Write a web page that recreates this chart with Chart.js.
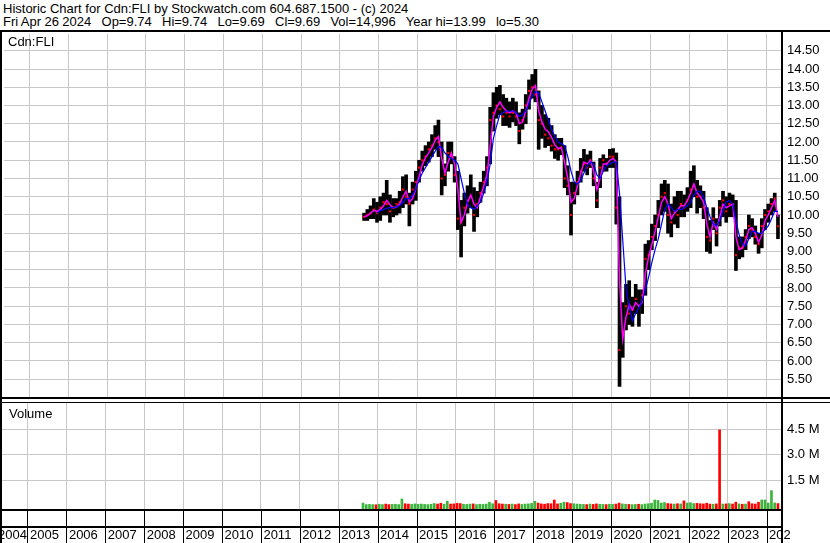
<!DOCTYPE html>
<html>
<head>
<meta charset="utf-8">
<title>Historic Chart for Cdn:FLI</title>
<script src="https://cdn.jsdelivr.net/npm/chart.js@4/dist/chart.umd.min.js"></script>
<style>
  html, body { margin: 0; padding: 0; background: #fff; }
  #page {
    position: relative; width: 830px; height: 543px; overflow: hidden;
    font-family: "Liberation Sans", Arial, sans-serif; font-size: 13px; color: #000;
  }
  .txt { position: absolute; white-space: pre; line-height: 13px; }
  #priceCanvas { position: absolute; left: 0; top: 30px; }
  #volumeCanvas { position: absolute; left: 0; top: 402px; }
</style>
</head>
<body>
<div id="page">
  <div class="txt" style="left:3px; top:2px;">Historic Chart for Cdn:FLI by Stockwatch.com 604.687.1500 - (c) 2024</div>
  <div class="txt" style="left:3px; top:15px; word-spacing:-0.2px;">Fri Apr 26 2024   Op=9.74   Hi=9.74   Lo=9.69   Cl=9.69   Vol=14,996   Year hi=13.99   lo=5.30</div>
  <canvas id="priceCanvas" width="830" height="372"></canvas>
  <canvas id="volumeCanvas" width="830" height="141"></canvas>
  <div class="txt" style="left:8px; top:35px;">Cdn:FLI</div>
  <div class="txt" style="left:9px; top:407px;">Volume</div>
</div>

<script>
/* ---------- данные (помесячно, с авг. 2013 по апр. 2024) ---------- */
const startMonth = { year: 2013, month: 8 };

const priceHigh = [
  10.05, 10.15, 10.25, 10.45, 10.35,
  10.5, 10.6, 10.95, 10.55, 10.45, 10.45, 10.65, 11.05, 11.1, 10.6, 10.9, 11.2,
  11.5, 11.75, 11.9, 12.0, 12.2, 12.45, 12.6, 12.0, 11.4, 12.0, 12.0, 11.6,
  11.2, 10.4, 10.6, 10.8, 11.1, 10.75, 10.65, 10.9, 11.2, 11.6, 12.95, 13.35,
  13.5, 13.55, 13.3, 13.2, 13.1, 13.2, 13.1, 12.8, 12.9, 13.3, 13.7, 13.85,
  13.99, 13.4, 13.0, 12.75, 12.65, 12.45, 12.2, 12.1, 12.1, 11.9, 11.35, 10.9,
  10.9, 11.2, 11.55, 11.8, 11.65, 11.75, 11.45, 10.9, 11.55, 11.65, 11.55, 11.8,
  11.82, 11.7, 10.5, 7.6, 8.1, 8.2, 7.75, 8.1, 7.95, 7.95, 9.2, 9.3,
  9.75, 10.0, 10.4, 10.85, 10.95, 10.85, 10.3, 10.5, 10.65, 10.65, 10.55, 10.75,
  11.2, 11.35, 10.95, 10.8, 10.65, 10.2, 9.85, 10.2, 9.9, 10.4, 10.65, 10.5,
  10.6, 10.55, 10.4, 9.4, 9.4, 9.6, 10.0, 9.9, 9.7, 9.5, 9.9, 10.15,
  10.3, 10.45, 10.6, 10.0
];

const priceLow = [
  9.85, 9.85, 9.9, 9.9, 9.8,
  9.85, 10.0, 10.0, 9.8, 9.95, 10.0, 10.05, 10.2, 10.3, 9.7, 10.3, 10.4,
  10.9, 11.2, 11.35, 11.45, 11.6, 11.8, 11.6, 10.55, 10.8, 11.2, 11.4, 10.9,
  9.6, 8.85, 9.7, 10.05, 10.2, 9.55, 9.95, 10.35, 10.6, 10.8, 11.4, 12.3,
  12.65, 12.75, 12.45, 12.45, 12.4, 12.55, 12.45, 11.95, 12.35, 12.5, 12.9, 13.2,
  13.1, 11.8, 12.1, 11.85, 11.9, 11.75, 11.55, 11.5, 11.65, 10.75, 10.55, 9.45,
  10.3, 10.55, 10.9, 11.2, 11.1, 11.3, 10.8, 10.2, 10.75, 11.2, 11.2, 11.3,
  11.3, 9.75, 5.3, 6.1, 6.85, 7.0, 6.95, 7.3, 6.95, 7.3, 7.8, 8.5,
  9.05, 9.3, 9.65, 10.0, 10.1, 9.5, 9.4, 9.75, 9.65, 9.95, 9.95, 10.1,
  10.2, 10.5, 10.05, 10.2, 9.9, 9.0, 8.95, 9.6, 9.15, 9.7, 9.95, 9.8,
  9.95, 9.95, 8.48, 8.8, 8.85, 9.05, 9.35, 9.4, 9.2, 8.95, 9.1, 9.6,
  9.8, 10.0, 10.1, 9.35
];

const priceClose = [
  9.95, 10.0, 10.05, 10.15, 10.05,
  10.2, 10.35, 10.3, 10.1, 10.2, 10.3, 10.35, 10.7, 10.5, 10.3, 10.7, 10.9,
  11.3, 11.5, 11.6, 11.8, 11.9, 12.1, 12.0, 11.0, 11.1, 11.7, 11.6, 11.1,
  9.9, 9.8, 10.2, 10.4, 10.5, 10.0, 10.3, 10.6, 10.9, 11.3, 12.6, 12.8,
  13.0, 12.9, 12.7, 12.8, 12.7, 12.8, 12.7, 12.3, 12.6, 13.0, 13.4, 13.5,
  13.3, 12.6, 12.5, 12.2, 12.1, 11.9, 11.8, 11.8, 11.85, 11.0, 10.8, 10.0,
  10.6, 10.9, 11.2, 11.4, 11.3, 11.5, 11.0, 10.4, 11.3, 11.5, 11.4, 11.6,
  11.6, 10.2, 6.3, 6.8, 7.5, 7.3, 7.4, 7.7, 7.5, 7.8, 8.8, 8.9,
  9.4, 9.7, 10.0, 10.5, 10.6, 10.0, 9.8, 10.1, 10.0, 10.3, 10.2, 10.4,
  10.7, 10.8, 10.5, 10.5, 10.2, 9.4, 9.3, 9.9, 9.5, 10.2, 10.4, 10.1,
  10.3, 10.3, 8.9, 9.1, 9.1, 9.4, 9.7, 9.6, 9.4, 9.2, 9.7, 10.0,
  10.1, 10.3, 10.45, 9.69
];

// короткая средняя (малиновая линия)
const maFast = [
  9.95, 9.98, 10.05, 10.13, 10.1,
  10.15, 10.25, 10.4, 10.28, 10.2, 10.22, 10.3, 10.5, 10.65, 10.35, 10.45, 10.72,
  11.05, 11.38, 11.57, 11.7, 11.85, 12.05, 12.15, 11.55, 11.15, 11.45, 11.7, 11.4,
  10.7, 9.8, 10.0, 10.35, 10.55, 10.3, 10.2, 10.5, 10.8, 11.1, 11.9, 12.7,
  12.95, 13.1, 12.95, 12.85, 12.8, 12.85, 12.8, 12.5, 12.55, 12.85, 13.2, 13.45,
  13.55, 12.85, 12.55, 12.35, 12.28, 12.12, 11.92, 11.82, 11.85, 11.45, 11.0, 10.35,
  10.45, 10.8, 11.15, 11.45, 11.4, 11.5, 11.2, 10.7, 11.0, 11.4, 11.4, 11.5,
  11.55, 11.45, 8.2, 6.6, 7.2, 7.55, 7.4, 7.6, 7.5, 7.6, 8.4, 8.85,
  9.2, 9.55, 9.95, 10.35, 10.5, 10.3, 9.9, 10.05, 10.15, 10.25, 10.25, 10.4,
  10.6, 10.85, 10.6, 10.5, 10.35, 9.75, 9.4, 9.8, 9.6, 9.95, 10.3, 10.2,
  10.25, 10.3, 9.4, 9.05, 9.1, 9.3, 9.6, 9.65, 9.5, 9.25, 9.45, 9.85,
  10.0, 10.2, 10.4, 9.95
];

// длинная средняя (синяя линия)
const maSlow = [
  null, null, null, null, 10.05,
  10.12, 10.15, 10.18, 10.2, 10.2, 10.22, 10.26, 10.35, 10.45, 10.45, 10.55, 10.72,
  10.95, 11.15, 11.3, 11.45, 11.6, 11.75, 11.88, 11.85, 11.7, 11.6, 11.55, 11.5,
  11.4, 11.0, 10.6, 10.3, 10.2, 10.15, 10.25, 10.35, 10.6, 10.9, 11.4, 12.1,
  12.45, 12.75, 12.8, 12.85, 12.85, 12.85, 12.8, 12.7, 12.75, 12.85, 13.05, 13.25,
  13.38, 13.35, 13.1, 12.85, 12.6, 12.35, 12.15, 12.0, 11.95, 11.9, 11.6, 11.2,
  10.9, 10.85, 10.95, 11.15, 11.35, 11.45, 11.4, 11.1, 11.0, 11.2, 11.35, 11.4,
  11.45, 11.45, 10.6, 9.3, 8.0, 7.5, 7.1, 7.3, 7.45, 7.65, 7.95, 8.3,
  8.7, 9.05, 9.35, 9.75, 10.15, 10.3, 10.2, 10.1, 10.15, 10.15, 10.2, 10.25,
  10.35, 10.55, 10.65, 10.65, 10.5, 10.2, 9.95, 9.75, 9.7, 9.85, 10.1, 10.35,
  10.4, 10.3, 9.85, 9.45, 9.2, 9.15, 9.35, 9.55, 9.55, 9.5, 9.5, 9.6,
  9.7, 9.9, 10.1, 10.1
];

// объём, тыс. акций (типичный дневной максимум месяца)
const volumeK = [
  150, 60, 70, 60, 50,
  80, 60, 90, 60, 70, 80, 60, 390, 110, 90, 70, 100,
  80, 90, 70, 60, 80, 120, 90, 140, 80, 250, 90, 100,
  130, 120, 80, 70, 90, 100, 60, 80, 70, 90, 200, 110,
  300, 110, 90, 80, 70, 90, 60, 100, 70, 90, 100, 130,
  250, 150, 100, 80, 120, 110, 330, 100, 140, 200, 180, 120,
  110, 90, 80, 70, 60, 90, 70, 100, 80, 70, 60, 80,
  70, 90, 150, 100, 80, 70, 60, 70, 80, 60, 90, 110,
  140, 330, 300, 150, 180, 120, 100, 90, 110, 100, 280, 150,
  170, 120, 130, 110, 100, 140, 90, 80, 100, 4450, 90, 100,
  120, 90, 200, 100, 80, 90, 230, 110, 90, 200, 330, 330,
  150, 880, 160, 120
];

// 1 = рост (зелёный), 0 = падение (красный)
const volumeUp = [
  1, 1, 1, 1, 0,
  1, 1, 0, 0, 1, 1, 1, 1, 0, 0, 1, 1,
  1, 1, 1, 1, 1, 1, 0, 0, 1, 1, 0, 0,
  0, 0, 1, 1, 1, 0, 1, 1, 1, 1, 1, 1,
  0, 0, 0, 1, 0, 1, 0, 0, 1, 1, 1, 1,
  1, 0, 0, 0, 0, 0, 0, 0, 1, 1, 0, 0,
  1, 1, 1, 1, 0, 1, 0, 0, 1, 1, 0, 1,
  1, 0, 0, 1, 1, 0, 1, 1, 0, 1, 1, 1,
  1, 1, 1, 1, 1, 0, 0, 1, 0, 1, 0, 1,
  1, 1, 0, 0, 0, 0, 0, 1, 0, 0, 1, 0,
  1, 0, 0, 1, 0, 1, 0, 0, 0, 0, 1, 1,
  1, 1, 1, 0
];

const priceTicks = [5.5, 6.0, 6.5, 7.0, 7.5, 8.0, 8.5, 9.0, 9.5, 10.0, 10.5,
                    11.0, 11.5, 12.0, 12.5, 13.0, 13.5, 14.0, 14.5];
const volumeTicks = [1.5, 3.0, 4.5];           // млн
const volumeTickLabels = ["1.5 M", "3.0 M", "4.5 M"];
const yearLabels = ["2004", "2005", "2006", "2007", "2008", "2009", "2010",
                    "2011", "2012", "2013", "2014", "2015", "2016", "2017",
                    "2018", "2019", "2020", "2021", "2022", "2023", "2024"];

/* ---------- оформление ---------- */
const FONT = '"Liberation Sans", Arial, sans-serif';
const GRID = "#c8c8c8";
const X_MIN = 2004.3445, X_MAX = 2024.370;
const PRICE_MIN = 4.986, PRICE_MAX = 14.959;
const VOL_MIN = -0.2e6, VOL_MAX = 6.035e6;

Chart.defaults.font.family = FONT;
Chart.defaults.font.size = 13;
Chart.defaults.color = "#000";

// середина каждого месяца в долях года
const monthX = priceHigh.map((_, i) => {
    const m = startMonth.month - 1 + i;
    return startMonth.year + Math.floor(m / 12) + ((m % 12) + 0.5) / 12;
});
const yearStarts = yearLabels.map(Number).filter(y => y > X_MIN && y < X_MAX);

function xAxis() {
    return {
        type: "linear", min: X_MIN, max: X_MAX, offset: false,
        grid: { color: GRID, drawTicks: false, offset: false },
        border: { display: false },
        ticks: { display: false },
        afterBuildTicks: s => { s.ticks = yearStarts.map(v => ({ value: v })); },
        afterFit: s => { s.height = 0; s.paddingLeft = 0; s.paddingRight = 0; }
    };
}

// правая ось: фиксированная ширина, без запаса под подписи сверху/снизу
function fixRightAxis(s) {
    s.width = 49;
    s.paddingTop = 0;
    s.paddingBottom = 0;
}

/* Чёрная рамка вокруг панели */
const framePlugin = {
    id: "frame",
    afterDraw(chart, args, opts) {
        const { ctx, chartArea: a, width, height } = chart;
        ctx.save();
        ctx.fillStyle = "#000";
        ctx.fillRect(0, opts.topY, width, opts.topH);     // верх
        ctx.fillRect(0, 0, 2, height);                     // лево
        ctx.fillRect(a.right, 0, 2, height);               // право
        if (opts.bottomH) ctx.fillRect(0, a.bottom - 1, width, opts.bottomH);
        ctx.restore();
    }
};

/* Строка с годами под объёмом */
const yearRowPlugin = {
    id: "yearRow",
    afterDraw(chart) {
        const { ctx, chartArea: a, height, scales: { x } } = chart;
        ctx.save();
        ctx.fillStyle = "#000";
        ctx.fillRect(0, a.bottom, a.right, 2);
        ctx.fillRect(0, a.bottom + 17, a.right, 2);
        yearLabels.forEach(lbl => {
            const px = Math.round(x.getPixelForValue(Number(lbl)));
            if (px > 1 && px < a.right) ctx.fillRect(px, a.bottom + 2, 1, height - a.bottom - 2);
        });
        ctx.beginPath();
        ctx.rect(0, a.bottom + 19, a.right + 9, height);
        ctx.clip();
        ctx.font = "13px " + FONT;
        ctx.textBaseline = "middle";
        ctx.textAlign = "left";
        yearLabels.forEach(lbl => {
            const px = x.getPixelForValue(Number(lbl));
            ctx.fillText(lbl, Math.max(px + 2.5, -2), a.bottom + 26);
        });
        ctx.restore();
    }
};

/* ---------- график цены ---------- */
new Chart(document.getElementById("priceCanvas"), {
    type: "bar",
    data: {
        datasets: [
            {
                type: "line", label: "MA long",
                data: monthX.map((x, i) => ({ x, y: maSlow[i] })),
                borderColor: "#0000ff", borderWidth: 1.2, pointRadius: 0, order: 1
            },
            {
                type: "line", label: "MA short",
                data: monthX.map((x, i) => ({ x, y: maFast[i] })),
                borderColor: "#ff00ff", borderWidth: 1.5, pointRadius: 0, order: 2
            },
            {
                type: "scatter", label: "Close",
                data: monthX.map((x, i) => ({ x, y: priceClose[i] })),
                pointStyle: "rect", pointRadius: 1.5, borderWidth: 0,
                backgroundColor: "#ff0000", order: 3
            },
            {
                type: "bar", label: "High/Low",
                data: monthX.map((x, i) => ({ x, y: [priceLow[i], priceHigh[i]] })),
                backgroundColor: "#000", barThickness: 3, order: 4
            }
        ]
    },
    options: {
        responsive: false, animation: false, events: [],
        layout: { padding: { top: 1, left: 2, right: 0, bottom: 2 } },
        plugins: {
            legend: { display: false }, tooltip: { enabled: false },
            frame: { topY: 0, topH: 2, bottomH: 2 }
        },
        scales: {
            x: xAxis(),
            y: {
                position: "right", min: PRICE_MIN, max: PRICE_MAX,
                grid: { color: GRID, drawTicks: false },
                border: { display: false },
                ticks: { padding: 6, autoSkip: false, callback: v => v.toFixed(2) },
                afterBuildTicks: s => { s.ticks = priceTicks.map(v => ({ value: v })); },
                afterFit: fixRightAxis
            }
        }
    },
    plugins: [framePlugin]
});

/* ---------- график объёма ---------- */
new Chart(document.getElementById("volumeCanvas"), {
    type: "bar",
    data: {
        datasets: [{
            label: "Volume",
            data: monthX.map((x, i) => ({ x, y: volumeK[i] * 1000 })),
            backgroundColor: c => volumeUp[c.dataIndex] ? "#3cb43c" : "#ff0000",
            barThickness: 2, base: VOL_MIN
        }]
    },
    options: {
        responsive: false, animation: false, events: [],
        layout: { padding: { top: 1, left: 2, right: 0, bottom: 34 } },
        plugins: {
            legend: { display: false }, tooltip: { enabled: false },
            frame: { topY: 0, topH: 1, bottomH: 0 }
        },
        scales: {
            x: xAxis(),
            y: {
                position: "right", min: VOL_MIN, max: VOL_MAX,
                grid: { color: GRID, drawTicks: false },
                border: { display: false },
                ticks: { padding: 6, autoSkip: false,
                         callback: (v, i) => volumeTickLabels[i] },
                afterBuildTicks: s => { s.ticks = volumeTicks.map(v => ({ value: v * 1e6 })); },
                afterFit: fixRightAxis
            }
        }
    },
    plugins: [framePlugin, yearRowPlugin]
});
</script>
</body>
</html>
